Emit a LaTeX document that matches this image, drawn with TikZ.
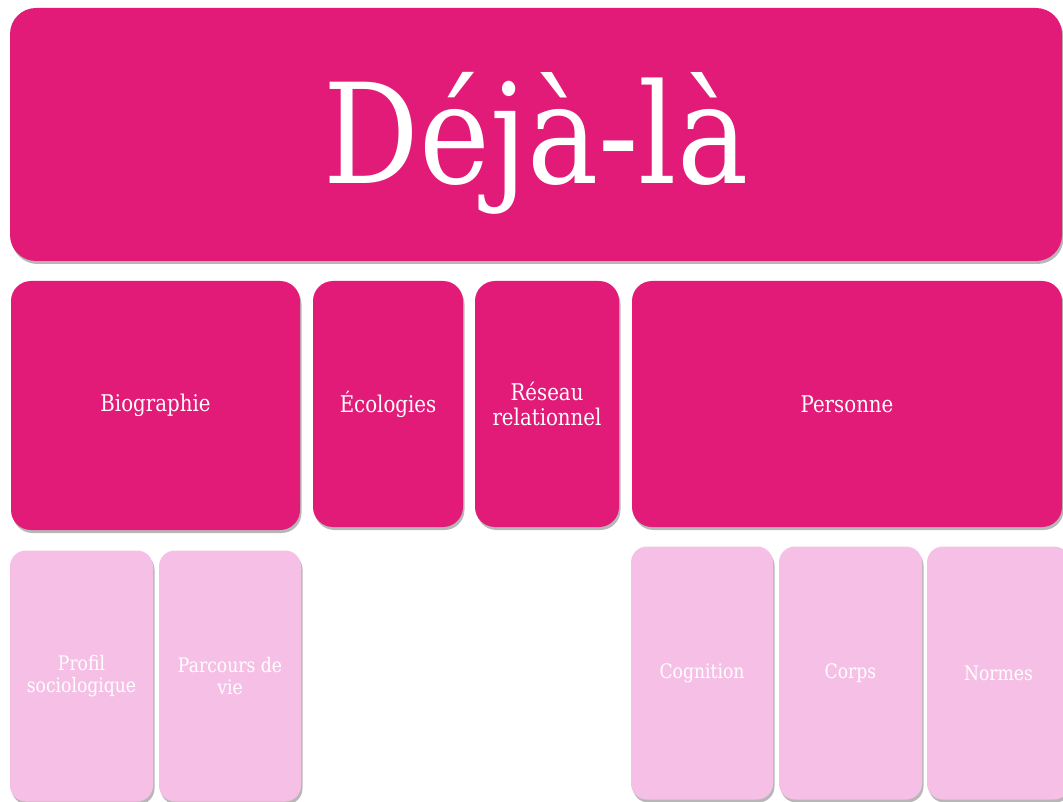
\documentclass[tikz,border=0pt]{standalone}
\usepackage{fontspec}
\setmainfont{DejaVu Serif}[FakeStretch=0.86]
\usetikzlibrary{shadows}
\definecolor{dpink}{HTML}{E11B77}
\definecolor{lpink}{HTML}{F6C0E6}
\tikzset{
  base/.style={draw=none, inner sep=0pt, align=center, text=white,
    drop shadow={shadow xshift=1.5pt, shadow yshift=-3pt, opacity=0.4, fill=black!70}},
  darkbox/.style={base, fill=dpink, rounded corners=20pt, font=\fontsize{23}{25}\selectfont},
  lightbox/.style={base, fill=lpink, rounded corners=16pt, font=\fontsize{20}{22}\selectfont},
}
\begin{document}
\begin{tikzpicture}[x=1pt, y=-1pt]
\useasboundingbox (0,0) rectangle (1063,802);
\clip (0,0) rectangle (1063,802);
\node[base, fill=dpink, rounded corners=26pt, minimum width=1052pt, minimum height=253pt,
  font=\fontsize{139}{150}\selectfont] (deja) at (536,134.5) {\raisebox{-9pt}[\height][\depth]{Déjà-là}};
\node[darkbox, minimum width=289pt, minimum height=249pt] (bio) at (155.5,405.5) {Biographie};
\node[darkbox, minimum width=150pt, minimum height=246pt] (eco) at (388,404) {Écologies};
\node[darkbox, minimum width=144pt, minimum height=246pt] (res) at (547,404) {Réseau\\relationnel};
\node[darkbox, minimum width=430pt, minimum height=246pt] (pers) at (847,404) {Personne};
\node[lightbox, minimum width=143pt, minimum height=251pt] (prof) at (81.5,676) {Profil\\sociologique};
\node[lightbox, minimum width=142pt, minimum height=251pt] (parc) at (230,676) {Parcours de\\vie};
\node[lightbox, minimum width=142pt, minimum height=253pt] (cog) at (702,673) {Cognition};
\node[lightbox, minimum width=143pt, minimum height=253pt] (corps) at (850.5,673) {Corps};
\node[lightbox, minimum width=143pt, minimum height=253pt] (norm) at (998.5,673) {Normes};
\end{tikzpicture}
\end{document}
